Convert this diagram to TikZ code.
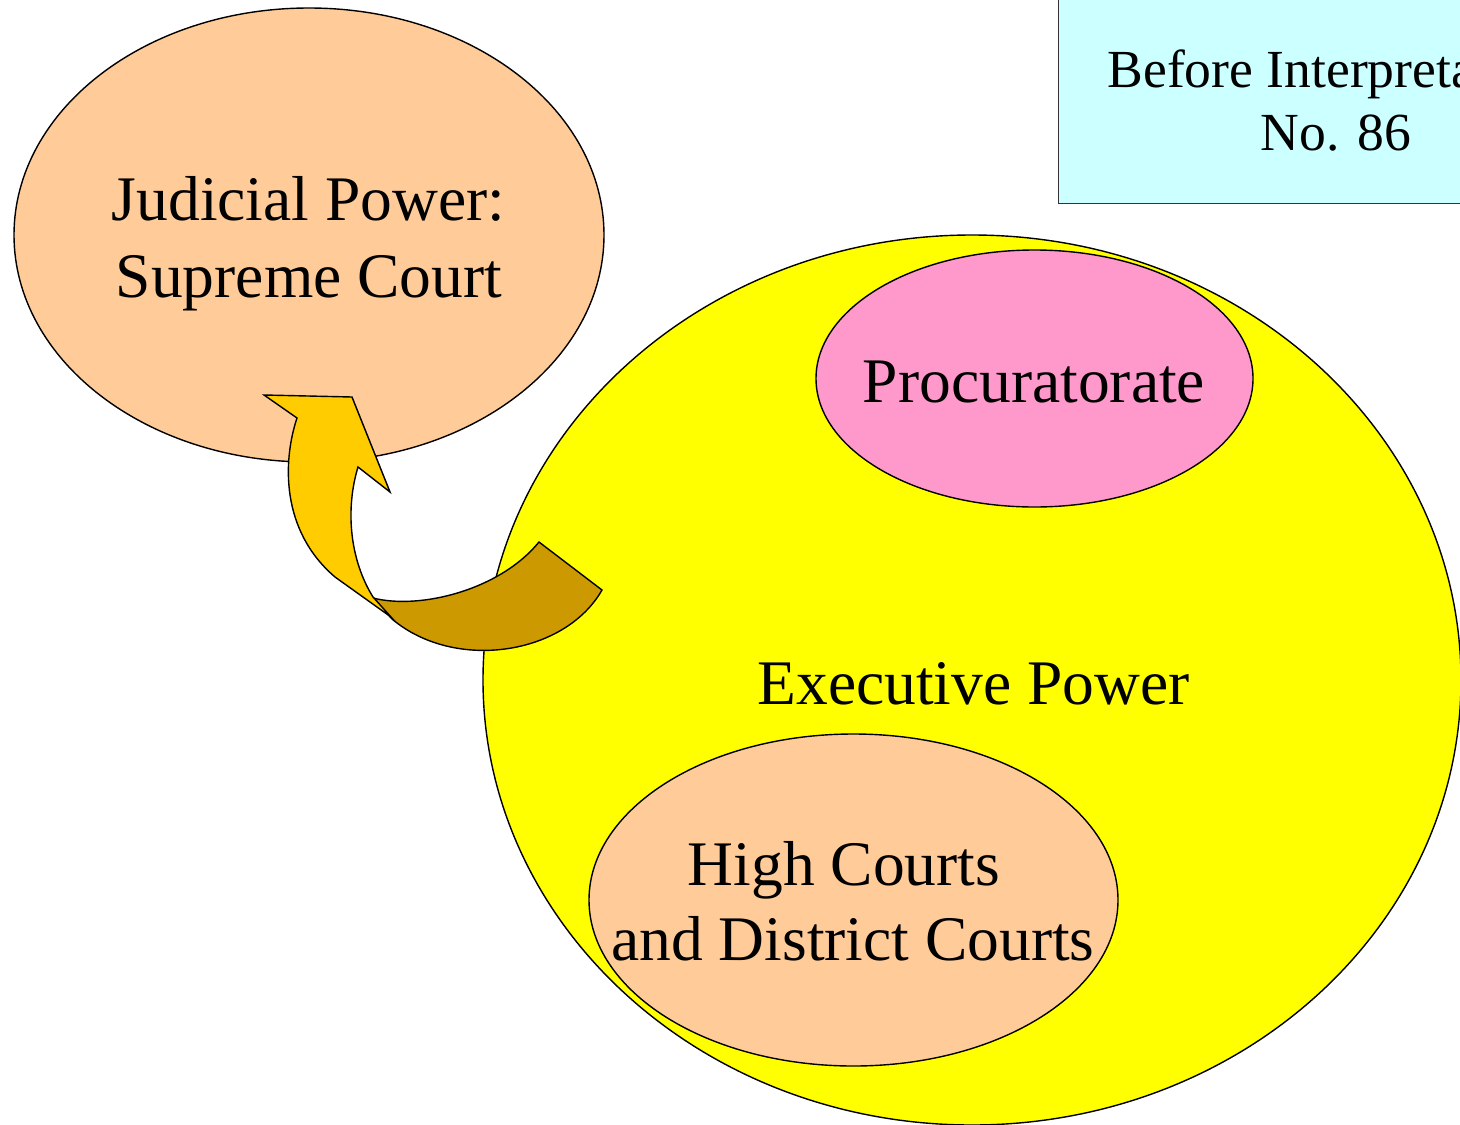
\documentclass[tikz,border=0pt]{standalone}
\usepackage{fontspec}
\setmainfont{Liberation Serif}
\usetikzlibrary{shapes.geometric}
\definecolor{peach}{HTML}{FFCC99}
\definecolor{exyellow}{HTML}{FFFF00}
\definecolor{procpink}{HTML}{FF99CC}
\definecolor{boxcyan}{HTML}{CCFFFF}
\definecolor{arrgold}{HTML}{FFCC00}
\definecolor{arrdark}{HTML}{CC9900}
\tikzset{
  ell/.style={ellipse, draw=black, line width=1.4pt, inner sep=0pt},
  bigtxt/.style={font=\fontsize{63.5}{76}\selectfont, inner sep=0pt, anchor=base},
  boxtxt/.style={font=\fontsize{53.6}{63}\selectfont, inner sep=0pt, anchor=base},
  arrpart/.style={draw=black, line width=1.4pt, line join=miter}
}
\begin{document}
\begin{tikzpicture}[x=1pt,y=-1pt]
\useasboundingbox (0,0) rectangle (1460,1125);
\clip (0,0) rectangle (1460,1125);
% ellipses and box
\node[ell, fill=peach, minimum width=590pt, minimum height=454pt] (jud) at (309,235) {};
\node[draw=black!80, line width=1.4pt, fill=boxcyan, minimum width=556pt, minimum height=240pt, anchor=south west, inner sep=0pt] (box) at (1058,204) {};
\node[ell, fill=exyellow, minimum width=978pt, minimum height=890pt] (exe) at (972,680) {};
\node[ell, fill=procpink, minimum width=437pt, minimum height=257pt] (proc) at (1034.5,378.5) {};
\node[ell, fill=peach, minimum width=529pt, minimum height=332pt] (high) at (853.5,900) {};
% texts
\node[bigtxt] (jud1) at (308.5,220) {Judicial Power:};
\node[bigtxt] (jud2) at (309,297) {Supreme Court};
\node[bigtxt] (proct) at (1034,402) {Procuratorate};
\node[bigtxt] (exet) at (973.5,704) {Executive Power};
\node[bigtxt] (high1) at (844,885) {High Courts};
\node[bigtxt] (high2) at (853,960) {and District Courts};
\node[boxtxt] (box1) at (1333,87) {Before Interpretation};
\node[boxtxt] (box2) at (1336,150) {No. 86};
% curved arrow: back band
\draw[arrpart, fill=arrdark]
  (373,598) .. controls (420,610) and (500,590) .. (539,542)
  -- (602,590)
  .. controls (565,655) and (455,672) .. (392,619)
  -- cycle;
% curved arrow: front shaft and head
\draw[arrpart, fill=arrgold]
  (297,418) -- (264,395) -- (352,397) -- (390,492) -- (358,467)
  .. controls (345,510) and (350,560) .. (373,597)
  -- (391,617)
  -- (335,577)
  .. controls (280,530) and (283,460) .. (297,418)
  -- cycle;
\end{tikzpicture}
\end{document}
